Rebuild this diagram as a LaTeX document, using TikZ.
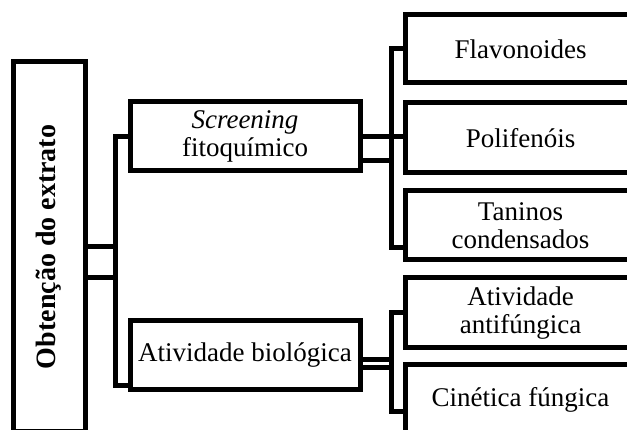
\documentclass[tikz,border=0pt]{standalone}
\usepackage{fontspec}
\setmainfont{Liberation Serif}
\begin{document}
\begin{tikzpicture}[x=1pt,y=-1pt,
  box/.style={draw, line width=5pt, inner sep=0pt, align=center, fill=white,
    font=\fontsize{27}{28}\selectfont},
  conn/.style={line width=5pt}]
\useasboundingbox (0,0) rectangle (627,430);
\clip (0,0) rectangle (627,430);
% boxes
\node[box, rotate=90, minimum width=370pt, minimum height=72pt, font=\fontsize{28}{30}\selectfont\bfseries] (root) at (49,247) {Obtenção do extrato};
\node[box, minimum width=230pt, minimum height=69pt] (scr) at (245,136.5) {\textit{Screening}\\fitoquímico};
\node[box, minimum width=230pt, minimum height=69pt] (bio) at (245,355.5) {Atividade biológica};
\node[box, minimum width=231pt, minimum height=68pt] (fla) at (520.5,49) {Flavonoides};
\node[box, minimum width=231pt, minimum height=70pt] (pol) at (520.5,138) {Polifenóis};
\node[box, minimum width=231pt, minimum height=69pt] (tan) at (520.5,225.5) {Taninos\\condensados};
\node[box, minimum width=231pt, minimum height=70pt] (ant) at (520.5,313) {Atividade\\antifúngica};
\node[box, minimum width=231pt, minimum height=70pt] (cin) at (520.5,400) {Cinética fúngica};
% helper coordinates
\coordinate (b1) at (115,0);
\coordinate (b2) at (391,0);
\coordinate (r1) at (0,247);
\coordinate (r2) at (0,278);
\coordinate (q1) at (0,386);
\coordinate (s2) at (0,161);
\coordinate (t1) at (0,248);
\coordinate (u1) at (0,360);
\coordinate (u2) at (0,368);
\coordinate (v1) at (0,412);
% connectors
\draw[conn] (root.south |- r1) -- (b1 |- r1);
\draw[conn] (root.south |- r2) -- (b1 |- r2);
\draw[conn] (scr.west) -| (b1 |- q1) -- (bio.west |- q1);
\draw[conn] (scr.east) -- (pol.west |- scr.east);
\draw[conn] (scr.east |- s2) -- (b2 |- s2);
\draw[conn] (fla.west) -| (b2 |- t1) -- (tan.west |- t1);
\draw[conn] (bio.east |- u1) -- (b2 |- u1);
\draw[conn] (bio.east |- u2) -- (b2 |- u2);
\draw[conn] (ant.west) -| (b2 |- v1) -- (cin.west |- v1);
\end{tikzpicture}
\end{document}
